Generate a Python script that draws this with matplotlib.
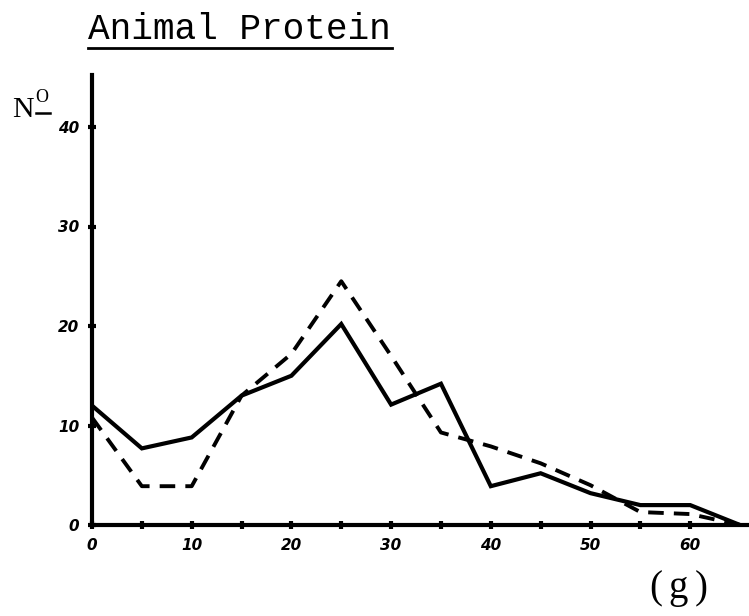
import matplotlib
matplotlib.use("Agg")
import matplotlib.pyplot as plt

# Data
grams = [0, 5, 10, 15, 20, 25, 30, 35, 40, 45, 50, 55, 60, 65]
solid_series = [12.0, 7.7, 8.8, 13.0, 15.0, 20.2, 12.1, 14.2, 3.9, 5.2, 3.2, 2.0, 2.0, 0.0]
dashed_series = [10.8, 3.9, 3.9, 13.0, 17.2, 24.5, 17.0, 9.3, 7.9, 6.2, 4.0, 1.3, 1.1, 0.0]
x_major = [0, 10, 20, 30, 40, 50, 60]
x_minor = [5, 15, 25, 35, 45, 55]
y_major = [0, 10, 20, 30, 40]

W, H = 749, 616
fig = plt.figure(figsize=(W / 100, H / 100), dpi=100)
x0, y0 = 92, 525
sx, sy = 9.97, 9.95
xmax = (W - x0) / sx
ymax = 45.2
ax = fig.add_axes([x0 / W, 1 - y0 / H, (W - x0) / W, ymax * sy / H])
ax.set_xlim(0, xmax)
ax.set_ylim(0, ymax)

ax.plot(grams, solid_series, color="black", lw=3, solid_joinstyle="miter",
        solid_capstyle="butt", clip_on=False)
ax.plot(grams, dashed_series, color="black", lw=2.8, dashes=(4, 2.6),
        clip_on=False)

for s in ["top", "right"]:
    ax.spines[s].set_visible(False)
for s in ["left", "bottom"]:
    ax.spines[s].set_linewidth(3)

ax.set_xticks(x_major)
ax.set_xticks(x_minor, minor=True)
ax.set_yticks(y_major)
ax.set_xticklabels([str(v) for v in x_major])
ax.set_yticklabels([str(v) for v in y_major])
ax.tick_params(axis="both", which="both", direction="inout", length=6, width=3)
ax.tick_params(axis="x", pad=6)
ax.tick_params(axis="y", pad=6)
for lab in ax.get_xticklabels() + ax.get_yticklabels():
    lab.set_fontsize(11)
    lab.set_fontweight("heavy")
    lab.set_fontstyle("italic")

# Title (typewriter, underlined)
fig.text(88 / W, 1 - 39 / H, "Animal Protein", family="Liberation Mono",
         fontsize=26, ha="left", va="baseline", color="black")
fig.add_artist(plt.Line2D([88 / W, 392 / W], [1 - 48 / H, 1 - 48 / H],
                          color="black", lw=2))

# Y label N^o
fig.text(12 / W, 1 - 117 / H, "N", family="Liberation Serif", fontsize=21.5,
         ha="left", va="baseline")
fig.text(35 / W, 1 - 102 / H, "O", family="Liberation Serif", fontsize=13,
         ha="left", va="baseline")
fig.add_artist(plt.Line2D([36 / W, 50 / W], [1 - 113 / H, 1 - 113 / H],
                          color="black", lw=1.8))

# X unit
for ch, cx in [("(", 656), ("g", 678), (")", 701)]:
    fig.text(cx / W, 1 - 598 / H, ch, family="Liberation Serif", fontsize=28,
             ha="center", va="baseline")

fig.savefig("out.png", dpi=100)
